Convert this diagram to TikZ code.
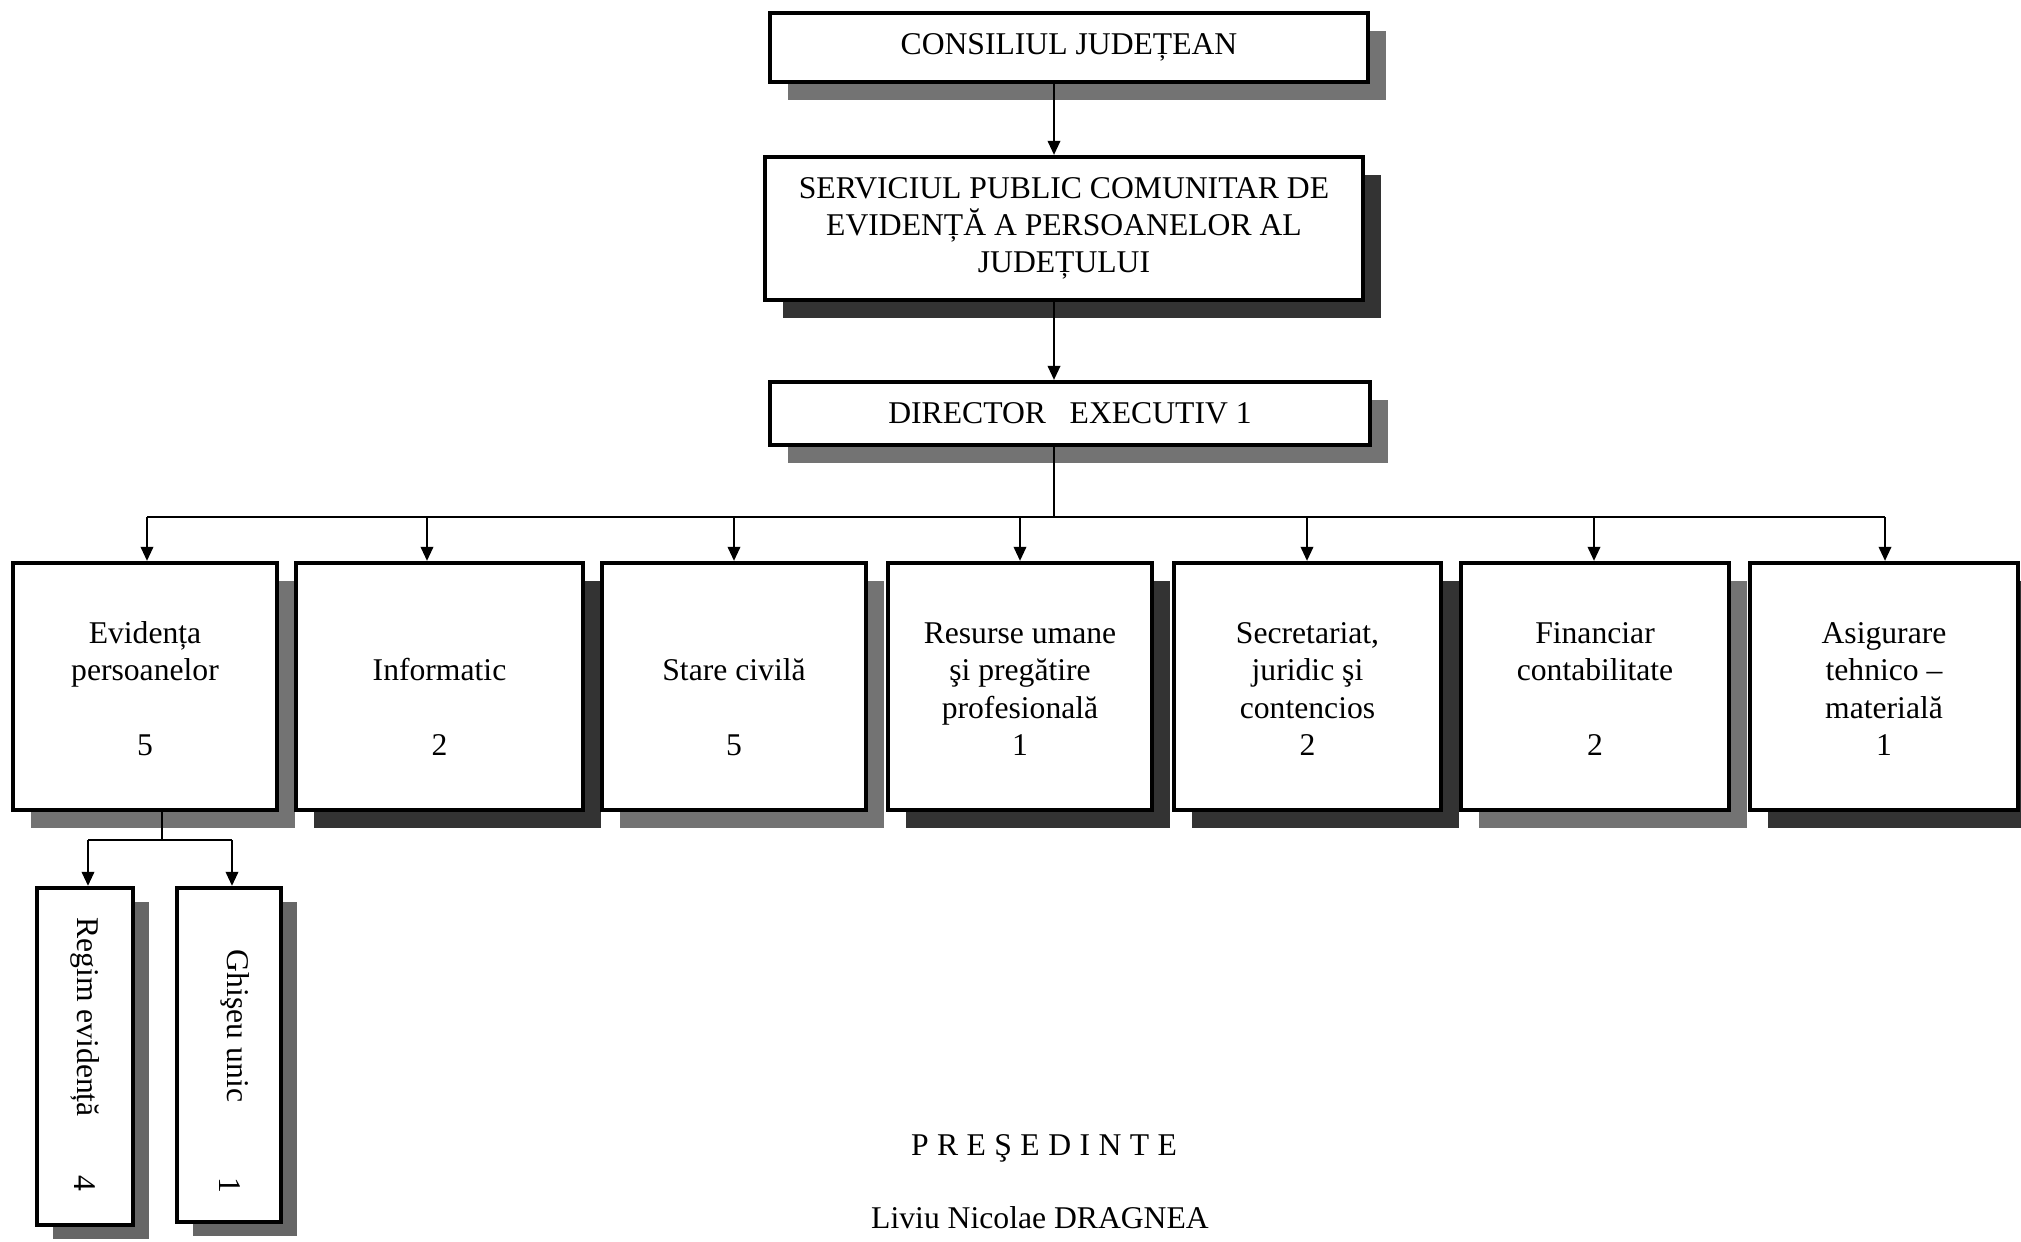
\documentclass[tikz,border=0pt]{standalone}
\usepackage{fontspec}
\setmainfont{Liberation Serif}
\usetikzlibrary{arrows.meta,shadows}
\newcommand{\boxfont}{\fontsize{9}{10.6}\selectfont\lineskiplimit=-20pt}
\begin{document}
\begin{tikzpicture}[x=0.01cm,y=-0.01cm,
  box/.style={draw, line width=1.2pt, fill=white, inner sep=0pt, align=center, font=\boxfont},
  lshad/.style={drop shadow={shadow xshift=0.18cm, shadow yshift=-0.18cm, fill=black!55, opacity=1}},
  dshad/.style={drop shadow={shadow xshift=0.18cm, shadow yshift=-0.18cm, fill=black!80, opacity=1}},
  sshad/.style={drop shadow={shadow xshift=0.16cm, shadow yshift=-0.14cm, fill=black!60, opacity=1}},
  conn/.style={line width=0.5pt},
  arr/.style={line width=0.5pt, -{Triangle[length=4pt,width=3.6pt]}},
  txt/.style={inner sep=0pt, font=\boxfont}]
\useasboundingbox (0,0) rectangle (2021,1241);

% top chain
\node[box, lshad, minimum width=5.98cm, minimum height=0.69cm] (b1) at (1069,47.5) {CONSILIUL JUDEȚEAN};
\node[box, dshad, minimum width=5.98cm, minimum height=1.43cm] (b2) at (1064,228.5) {SERVICIUL PUBLIC COMUNITAR DE\\EVIDENȚĂ A PERSOANELOR AL\\JUDEȚULUI};
\node[box, lshad, minimum width=6.0cm, minimum height=0.63cm] (b3) at (1070,413.5) {DIRECTOR \ \ EXECUTIV 1};

\coordinate (topx) at (1054,0);
\draw[arr] (b1.south -| topx) -- (b2.north -| topx);
\draw[arr] (b2.south -| topx) -- (b3.north -| topx);

% departments
\node[box, lshad, minimum width=2.64cm, minimum height=2.47cm] (bA) at (145,686.5) {\strut Evidența\\persoanelor\\\strut\\5};
\node[box, dshad, minimum width=2.87cm, minimum height=2.47cm] (bB) at (439.5,686.5) {\strut\\Informatic\\\strut\\2};
\node[box, lshad, minimum width=2.64cm, minimum height=2.47cm] (bC) at (734,686.5) {\strut\\Stare civilă\\\strut\\5};
\node[box, dshad, minimum width=2.64cm, minimum height=2.47cm] (bD) at (1020,686.5) {\strut Resurse umane\\şi pregătire\\profesională\\1};
\node[box, dshad, minimum width=2.67cm, minimum height=2.47cm] (bE) at (1307.5,686.5) {\strut Secretariat,\\juridic şi\\contencios\\2};
\node[box, lshad, minimum width=2.68cm, minimum height=2.47cm] (bF) at (1595,686.5) {\strut Financiar\\contabilitate\\\strut\\2};
\node[box, dshad, minimum width=2.68cm, minimum height=2.47cm] (bG) at (1884,686.5) {\strut Asigurare\\tehnico –\\materială\\1};

\coordinate (hA) at (147,517);
\coordinate (hB) at (427,517);
\coordinate (hC) at (734,517);
\coordinate (hD) at (1020,517);
\coordinate (hE) at (1307,517);
\coordinate (hF) at (1594,517);
\coordinate (hG) at (1885,517);
\draw[conn] (b3.south -| topx) -- (topx |- hA);
\draw[conn] (hA) -- (hG);
\draw[arr] (hA) -- (hA |- bA.north);
\draw[arr] (hB) -- (hB |- bB.north);
\draw[arr] (hC) -- (hC |- bC.north);
\draw[arr] (hD) -- (hD |- bD.north);
\draw[arr] (hE) -- (hE |- bE.north);
\draw[arr] (hF) -- (hF |- bF.north);
\draw[arr] (hG) -- (hG |- bG.north);

% sub-units
\node[box, sshad, minimum width=0.96cm, minimum height=3.37cm] (bR) at (85,1056.5) {};
\node[box, sshad, minimum width=1.04cm, minimum height=3.34cm] (bU) at (229,1055) {};
\node[txt, rotate=-90] (tR) at (85,1017) {Regim evidență};
\node[txt, rotate=-90] (nR) at (85,1183) {4};
\node[txt, rotate=-90] (tU) at (235,1026) {Ghişeu unic};
\node[txt, rotate=-90] (nU) at (230,1185) {1};

\coordinate (jA) at (162,840);
\coordinate (jR) at (88,840);
\coordinate (jU) at (232,840);
\draw[conn] (bA.south -| jA) -- (jA);
\draw[conn] (jR) -- (jU);
\draw[arr] (jR) -- (jR |- bR.north);
\draw[arr] (jU) -- (jU |- bU.north);

% signature
\node[txt, anchor=base] (pres) at (1044,1155) {P\kern2.4pt R\kern2.4pt E\kern2.4pt Ş\kern2.4pt E\kern2.4pt D\kern2.4pt I\kern2.4pt N\kern2.4pt T\kern2.4pt E};
\node[txt, anchor=base] (name) at (1040,1228) {Liviu Nicolae DRAGNEA};
\end{tikzpicture}
\end{document}
